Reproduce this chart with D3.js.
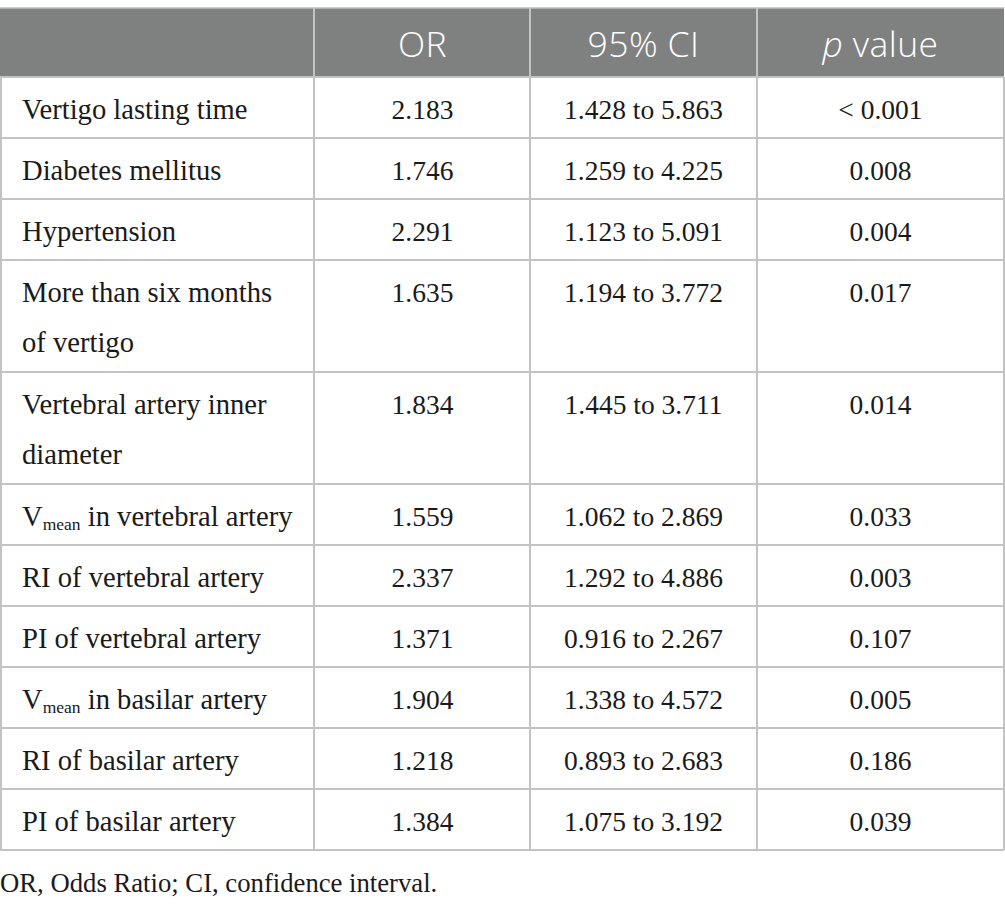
<!DOCTYPE html>
<html><head><meta charset="utf-8">
<script src="https://cdn.jsdelivr.net/npm/d3@7"></script>
<style>html,body{margin:0;padding:0;background:#fff;}svg{display:block;}</style>
</head><body>
<script>
const headers = ["", "OR", "95% CI", "p value"];
const labels = [
  ["Vertigo lasting time"],
  ["Diabetes mellitus"],
  ["Hypertension"],
  ["More than six months", "of vertigo"],
  ["Vertebral artery inner", "diameter"],
  ["V|mean| in vertebral artery"],
  ["RI of vertebral artery"],
  ["PI of vertebral artery"],
  ["V|mean| in basilar artery"],
  ["RI of basilar artery"],
  ["PI of basilar artery"]
];
const orValues = ["2.183","1.746","2.291","1.635","1.834","1.559","2.337","1.371","1.904","1.218","1.384"];
const ciLow  = ["1.428","1.259","1.123","1.194","1.445","1.062","1.292","0.916","1.338","0.893","1.075"];
const ciHigh = ["5.863","4.225","5.091","3.772","3.711","2.869","4.886","2.267","4.572","2.683","3.192"];
const pValues = ["< 0.001","0.008","0.004","0.017","0.014","0.033","0.003","0.107","0.005","0.186","0.039"];
const footnote = "OR, Odds Ratio; CI, confidence interval.";

const W = 1005, H = 908;
const svg = d3.select("body").append("svg").attr("width", W).attr("height", H);

const colEdges = [0, 314, 530, 757, 1004];
const headerTop = 8, headerBottom = 77;
const rowPad = 10, lineH = 51;
const serif = "'Liberation Serif', 'Times New Roman', serif";
const sans = "'Open Sans', 'Noto Sans', sans-serif";
const lineColor = "#c3c3c3";

// cumulative row positions
const units = labels.map(l => l.length);
const cum = [0];
units.forEach((u, i) => cum.push(cum[i] + u));
const rowTops = cum.map((c, i) => headerBottom + c * lineH + i * rowPad);
const tableBottom = rowTops[rowTops.length - 1];

// header band
svg.append("rect").attr("x", 0).attr("y", headerTop).attr("width", colEdges[4]).attr("height", headerBottom - headerTop)
  .attr("fill", "#7f8180");
svg.append("line").attr("x1", 0).attr("x2", colEdges[4]).attr("y1", headerTop).attr("y2", headerTop)
  .attr("stroke", "#bdbdbd").attr("stroke-width", 1.5);

const centers = [22, (colEdges[1]+colEdges[2])/2 + 0.5, (colEdges[2]+colEdges[3])/2, (colEdges[3]+colEdges[4])/2];

// header text
const hg = svg.append("g");
headers.forEach((h, i) => {
  if (!h) return;
  const t = hg.append("text").attr("x", centers[i]).attr("y", headerTop + 49)
    .attr("text-anchor", "middle").attr("fill", "#fff")
    .attr("font-family", sans).attr("font-weight", 300).attr("font-size", 35.5).attr("letter-spacing", 0.4);
  if (h.startsWith("p ")) {
    t.append("tspan").attr("font-style", "italic").text("p");
    t.append("tspan").text(h.slice(1));
  } else t.text(h);
});

// body
const body = svg.append("g");
labels.forEach((lab, i) => {
  const top = rowTops[i];
  lab.forEach((line, j) => {
    const t = body.append("text").attr("x", centers[0]).attr("y", top + 42 + j * 49.5)
      .attr("font-family", serif).attr("font-size", 28.6).attr("fill", "#1a1a1a");
    const parts = line.split("|");
    parts.forEach((p, k) => {
      if (k % 2 === 1) t.append("tspan").attr("font-size", 17.5).attr("dy", 4).text(p);
      else {
        const ts = t.append("tspan").text(p);
        if (k > 0) ts.attr("dy", -4);
      }
    });
  });
  const vals = [orValues[i], ciLow[i] + " to " + ciHigh[i], pValues[i]];
  vals.forEach((v, k) => {
    body.append("text").attr("x", centers[k+1]).attr("y", top + 42)
      .attr("text-anchor", "middle").attr("font-family", serif).attr("font-size", 27.5)
      .attr("fill", "#1a1a1a").text(v);
  });
});

// grid lines
const grid = svg.append("g").attr("stroke", lineColor).attr("stroke-width", 2);
rowTops.forEach(y => grid.append("line").attr("x1", 0).attr("x2", colEdges[4]).attr("y1", y).attr("y2", y));
colEdges.forEach((x, i) => {
  const xx = i === 0 ? 1 : x;
  grid.append("line").attr("x1", xx).attr("x2", xx)
    .attr("y1", i === 0 || i === 4 ? headerBottom : headerTop).attr("y2", tableBottom);
});

// footnote
svg.append("text").attr("x", 0).attr("y", 892).attr("font-family", serif).attr("font-size", 26.7)
  .attr("fill", "#1a1a1a").text(footnote);
</script>
</body></html>
